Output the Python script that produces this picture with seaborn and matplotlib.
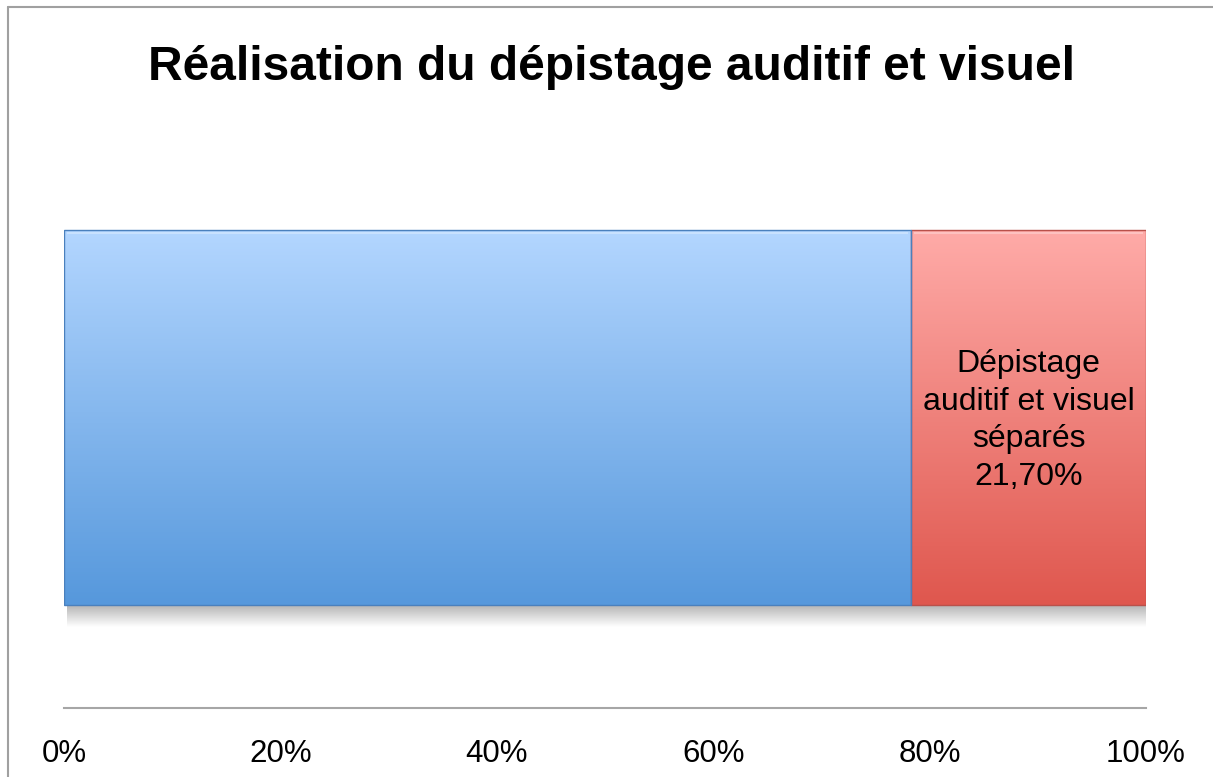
import numpy as np
import pandas as pd
import matplotlib
matplotlib.use("Agg")
import matplotlib.pyplot as plt
import seaborn as sns
from matplotlib.colors import LinearSegmentedColormap
from matplotlib.lines import Line2D

# ---------------- data ----------------
title = "Réalisation du dépistage auditif et visuel"
segments = ["Dépistage auditif et visuel couplés", "Dépistage auditif et visuel séparés"]
values = [78.3, 21.7]
segment_labels = ["", "Dépistage\nauditif et visuel\nséparés\n21,70%"]
tick_values = [0, 20, 40, 60, 80, 100]
tick_labels = ["0%", "20%", "40%", "60%", "80%", "100%"]

# ---------------- style ----------------
sns.set_theme(style="white")
plt.rcParams["font.family"] = ["Liberation Sans", "DejaVu Sans"]

grad_top = ["#b3d6ff", "#ffaba8"]
grad_bot = ["#5698dc", "#df574e"]
edge_cols = ["#4a80bd", "#b9514b"]

W, H = 1213, 777
fig = plt.figure(figsize=(W / 100, H / 100), dpi=100)
fig.patch.set_facecolor("white")
ax_left, ax_right, ax_top, ax_bot = 64, 1146, 150, 708
ax = fig.add_axes([ax_left / W, 1 - ax_bot / H, (ax_right - ax_left) / W, (ax_bot - ax_top) / H])

starts = np.cumsum([0] + values[:-1])
ends = starts + np.array(values)
df = pd.DataFrame({"row": ["r"] * len(values), "segment": segments, "end": ends})

bar_h = 0.6
sns.barplot(data=df.iloc[::-1], x="end", y="row", hue="segment",
            hue_order=segments[::-1], dodge=False, width=bar_h,
            palette=dict(zip(segments, grad_bot)), legend=False, ax=ax,
            orient="h")

# px per data unit in y
ppu = 375 / bar_h
y_center_px = 417.5
ylim_bottom = (ax_bot - y_center_px) / ppu
ylim_top = -(y_center_px - ax_top) / ppu

patches = list(ax.patches)
grad = np.linspace(0, 1, 256).reshape(-1, 1)
for p in patches:
    i = int(np.argmin(np.abs(ends - p.get_width())))
    p.set_x(starts[i])
    p.set_width(values[i])
    x0, y0, w, h = p.get_x(), p.get_y(), p.get_width(), p.get_height()
    cmap = LinearSegmentedColormap.from_list(f"g{i}", [grad_top[i], grad_bot[i]])
    im = ax.imshow(grad, cmap=cmap, aspect="auto", origin="upper",
                   extent=[x0, x0 + w, y0 + h, y0], zorder=2 + i * 0.01)
    im.set_clip_path(p)
    p.set_facecolor("none")
    p.set_edgecolor(edge_cols[i])
    p.set_linewidth(1.0)
    p.set_zorder(3)
    # subtle bevel highlight on top edge
    ax.plot([x0 + 0.3, x0 + w - 0.3], [y0 + 0.004, y0 + 0.004], color="white",
            alpha=0.35, lw=1.2, zorder=3.5, solid_capstyle="butt")
    if segment_labels[i]:
        ax.text(x0 + w / 2, 0.005, segment_labels[i], ha="center", va="center",
                fontsize=23, color="black", linespacing=1.33, zorder=5)

# shadow under the bar
shadow_h = 22 / ppu
alpha = np.linspace(0.5, 0.0, 64)
shadow = np.zeros((64, 1, 4))
shadow[..., :3] = 0.42
shadow[:, 0, 3] = alpha
ax.imshow(shadow, aspect="auto", origin="upper",
          extent=[0.3, 100, bar_h / 2 + shadow_h, bar_h / 2], zorder=1)

ax.set_xlim(0, 100)
ax.set_ylim(ylim_bottom, ylim_top)
ax.set_xticks(tick_values)
ax.set_xticklabels(tick_labels, fontsize=22.5)
ax.tick_params(axis="x", length=0, pad=22, colors="black")
ax.set_yticks([])
ax.set_xlabel("")
ax.set_ylabel("")
for s in ["top", "right", "left"]:
    ax.spines[s].set_visible(False)
ax.spines["bottom"].set_color("#a6a6a6")
ax.spines["bottom"].set_linewidth(1.5)
ax.set_facecolor("none")

fig.text(612 / W, 1 - 68 / H, title, ha="center", va="center",
         fontsize=34.5, fontweight="bold", color="black")

# outer border (top and left visible)
fig.add_artist(Line2D([8 / W, 1], [1 - 7 / H, 1 - 7 / H], transform=fig.transFigure,
                      color="#a0a0a0", lw=1.5))
fig.add_artist(Line2D([8 / W, 8 / W], [0, 1 - 7 / H], transform=fig.transFigure,
                      color="#a0a0a0", lw=1.5))

fig.savefig("out.png", dpi=100, facecolor="white")
